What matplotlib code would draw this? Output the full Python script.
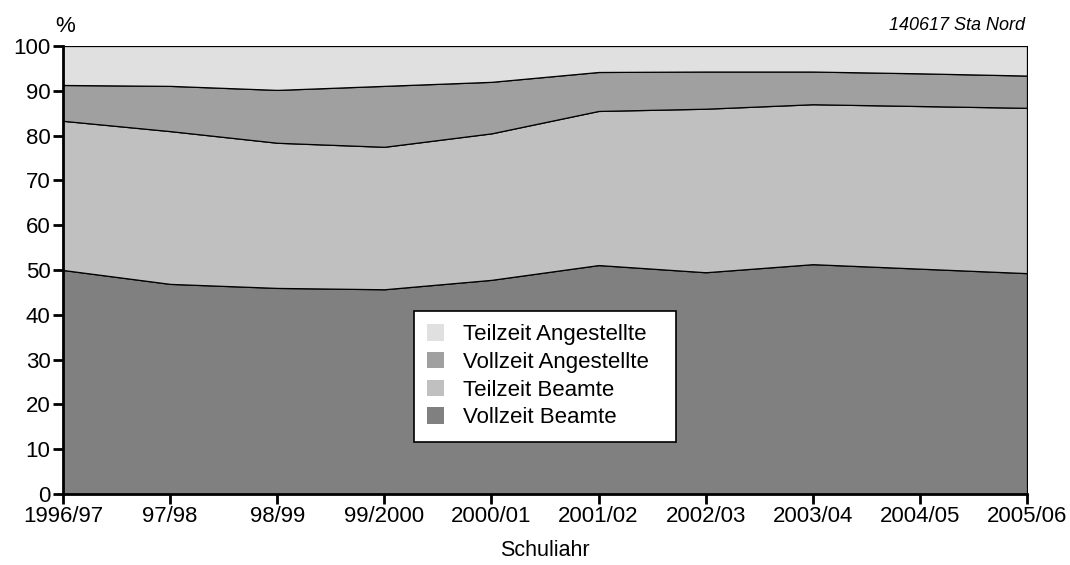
import matplotlib
matplotlib.use("Agg")
import matplotlib.pyplot as plt

years = ["1996/97", "97/98", "98/99", "99/2000", "2000/01", "2001/02",
         "2002/03", "2003/04", "2004/05", "2005/06"]
vollzeit_beamte = [50.0, 46.9, 46.0, 45.7, 47.8, 51.1, 49.5, 51.3, 50.3, 49.3]
teilzeit_beamte = [33.3, 34.1, 32.4, 31.8, 32.7, 34.4, 36.5, 35.7, 36.3, 36.9]
vollzeit_angestellte = [8.0, 10.1, 11.8, 13.6, 11.5, 8.7, 8.3, 7.3, 7.3, 7.2]
teilzeit_angestellte = [8.7, 8.9, 9.8, 8.9, 8.0, 5.8, 5.7, 5.7, 6.1, 6.6]

labels = ["Vollzeit Beamte", "Teilzeit Beamte", "Vollzeit Angestellte", "Teilzeit Angestellte"]
colors = ["#808080", "#c0c0c0", "#a0a0a0", "#e0e0e0"]

plt.rcParams['font.family'] = ['Liberation Sans', 'DejaVu Sans']

fig = plt.figure(figsize=(10.7, 5.65), dpi=100)
ax = fig.add_axes([63/1070, 1-494/565, (1027-63)/1070, (494-46)/565])

x = list(range(len(years)))
ax.stackplot(x, vollzeit_beamte, teilzeit_beamte, vollzeit_angestellte,
             teilzeit_angestellte, labels=labels, colors=colors,
             edgecolor="black", linewidth=0.9)

ax.set_xlim(0, len(years) - 1)
ax.set_ylim(0, 100)
ax.set_xticks(x)
ax.set_xticklabels(years)
ax.set_yticks(range(0, 101, 10))
ax.tick_params(axis='y', labelsize=16, length=7, width=2, direction='out', pad=2)
ax.tick_params(axis='x', labelsize=16, length=7, width=2, direction='out', pad=2)
for s in ["top", "right"]:
    ax.spines[s].set_visible(False)
for s in ["left", "bottom"]:
    ax.spines[s].set_linewidth(2)
ax.set_xlabel("Schuliahr", fontsize=15.5, labelpad=9)

fig.text(55/1070, 1-26/565, "%", fontsize=16, ha="left", va="center")
fig.text(1025/1070, 1-25/565, "140617 Sta Nord", fontsize=13, ha="right",
         va="center", style="italic")

handles, labs = ax.get_legend_handles_labels()
lx0, ly0 = 414/1070, 1-440/565
lw, lh = (676-414)/1070, (440-311)/565
leg = fig.legend(handles[::-1], labs[::-1], loc="upper left",
                 bbox_to_anchor=(lx0, ly0, lw, lh), mode="expand", fontsize=16,
                 frameon=True, fancybox=False, edgecolor="black",
                 borderpad=0.6, labelspacing=0.3, handlelength=0.75,
                 handleheight=0.75, handletextpad=0.85, borderaxespad=0)
leg.get_frame().set_linewidth(1.2)
leg.get_frame().set_alpha(1)
for h in leg.legend_handles:
    h.set_edgecolor("none")

fig.savefig("out.png", dpi=100)
